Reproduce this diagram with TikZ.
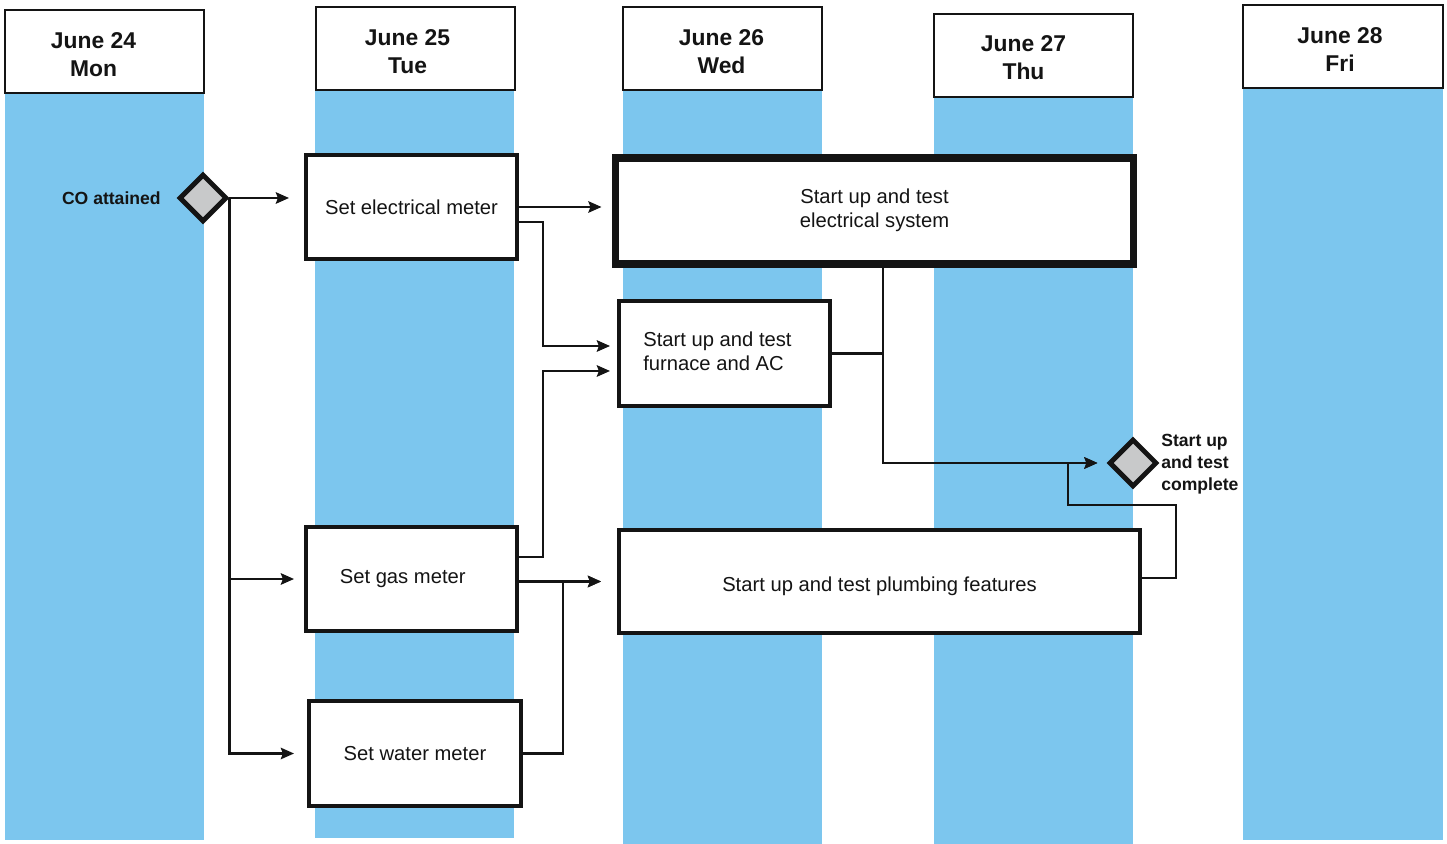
\documentclass[tikz,border=0pt]{standalone}
\usepackage{fontspec}
\setmainfont{Liberation Sans}
\usetikzlibrary{shapes.geometric,arrows.meta,calc}
\definecolor{stripe}{RGB}{124,198,238}
\definecolor{diafill}{RGB}{200,201,202}
\definecolor{ink}{RGB}{20,20,20}
\begin{document}
\begin{tikzpicture}[x=0.02cm,y=-0.02cm,
  hdr/.style={draw=ink,line width=1.1pt,fill=white,minimum width=3.98cm,minimum height=1.66cm,inner sep=0pt},
  hdrtxt/.style={align=center,inner sep=0pt,font=\fontsize{13}{15.9}\selectfont\bfseries,text=ink},
  task/.style={draw=ink,line width=2.3pt,fill=white,minimum width=4.22cm,minimum height=2.08cm,align=center,inner sep=0pt,font=\fontsize{11.5}{13.6}\selectfont,text=ink},
  bigtask/.style={task,line width=4pt},
  milestone/.style={diamond,draw=ink,line width=2.8pt,fill=diafill,minimum size=0.96cm,inner sep=0pt},
  lbl/.style={font=\fontsize{10}{12.5}\selectfont\bfseries,text=ink,inner sep=0pt,align=left},
  conn/.style={draw=ink,line width=1.4pt},
  arr/.style={conn,-{Stealth[length=7.5pt,width=6.5pt,inset=1.2pt]},shorten >=0.2cm}
]
\fill[white] (0,0) rectangle (1447,844);
\useasboundingbox (0,0) rectangle (1447,844);
% day stripes
\fill[stripe] (5,93) rectangle (204,840);
\fill[stripe] (315,90) rectangle (514,838);
\fill[stripe] (623,90) rectangle (822,844);
\fill[stripe] (934,97) rectangle (1133,844);
\fill[stripe] (1243,88) rectangle (1443,840);
% headers
\node[hdr] (d1) at (104.5,51.5) {};
\node[hdr] (d2) at (415.5,48.5) {};
\node[hdr] (d3) at (722.5,48.5) {};
\node[hdr] (d4) at (1033.5,55.5) {};
\node[hdr,minimum width=4.0cm] (d5) at (1343,46.5) {};
\node[hdrtxt] (t1) at ([shift={(-11,3)}]d1.center) {June 24\\Mon};
\node[hdrtxt] (t2) at ([shift={(-8,3)}]d2.center) {June 25\\Tue};
\node[hdrtxt] (t3) at ([shift={(-1,3)}]d3.center) {June 26\\Wed};
\node[hdrtxt] (t4) at ([shift={(-10,2)}]d4.center) {June 27\\Thu};
\node[hdrtxt] (t5) at ([shift={(-3,3)}]d5.center) {June 28\\Fri};
% milestones
\node[milestone] (co) at (203,198) {};
\node[lbl,anchor=east] (colbl) at (161,198) {CO attained};
\node[milestone] (done) at (1133,463) {};
\node[lbl,anchor=west] (donelbl) at (1161,464) {Start up\\and test\\complete};
% tasks
\node[task] (elecm) at (411.5,207) {Set electrical meter};
\node[bigtask,minimum width=10.38cm,minimum height=2.12cm] (elecsys) at (874.5,211) {\begin{tabular}{@{}c@{}}Start up and test\\electrical system\end{tabular}\rule[-6pt]{0pt}{1pt}};
\node[task,minimum height=2.1cm,align=left] (furnace) at (724.5,353.5) {\begin{tabular}{@{}l@{}}Start up and test\\furnace and AC\end{tabular}\hspace*{8pt}};
\node[task] (gas) at (411.5,579) {\hspace*{-10pt}Set gas meter};
\node[task,minimum width=4.24cm,minimum height=2.1cm] (water) at (415,753.5) {Set water meter};
\node[task,minimum width=10.42cm,minimum height=2.06cm,text height=14pt,text depth=2.4pt] (plumb) at (879.5,581.5) {Start up and test plumbing features};
\coordinate (ej) at ([xshift=0.17cm]elecsys.south);
% connectors
\draw[arr,shorten >=0.3cm] (co.east) -- (co.east -| elecm.west);
\draw[arr] (co.east) |- (gas.west);
\draw[arr,shorten >=0.26cm] (co.east) |- (water.west);
\draw[arr] (elecm.east) -- (elecm.east -| elecsys.west);
\draw[arr,shorten >=0.14cm] ([yshift=-0.3cm]elecm.east) -- ++(24,0) |- ([yshift=0.15cm]furnace.west);
\draw[arr,shorten >=0.14cm] ([yshift=0.44cm]gas.east) -- ++(24,0) |- ([yshift=-0.35cm]furnace.west);
\draw[arr,shorten >=0.32cm] (gas.east |- plumb.west) -- (plumb.west);
\draw[arr,shorten >=0.32cm] (water.east) -- ++(40,0) |- (plumb.west);
\draw[arr,shorten >=0.18cm] (ej) |- (done.west);
\draw[conn] (furnace.east) -- (furnace.east -| ej);
\draw[arr,shorten >=0.18cm] ([yshift=0.07cm]plumb.east) -- ++(34,0) -- ++(0,-73) -- ++(-108,0) |- (done.west);
\end{tikzpicture}
\end{document}
